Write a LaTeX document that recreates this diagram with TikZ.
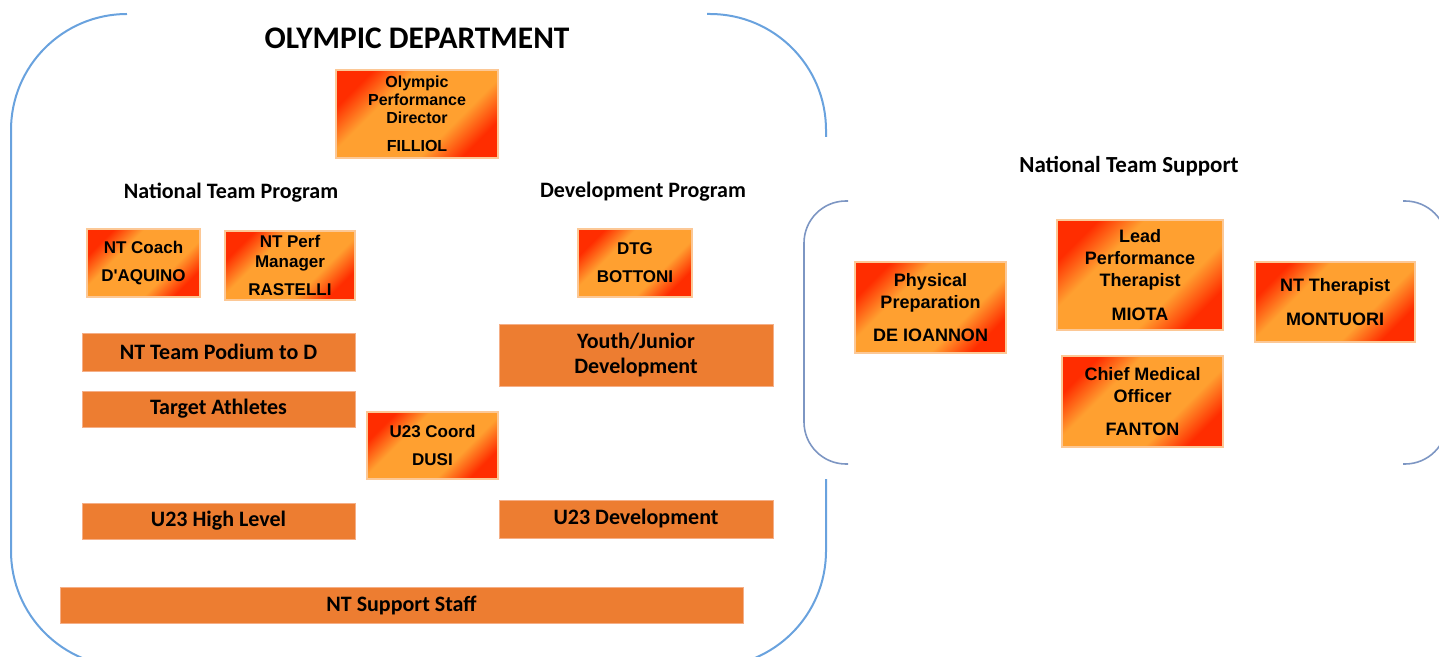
\documentclass[tikz,border=0pt]{standalone}
\usepackage{fontspec}
\setmainfont{Carlito}
\newfontfamily\arialfont{Liberation Sans}
\usepackage{tikz}
\usetikzlibrary{shadings}

\definecolor{glowred}{RGB}{255,45,0}
\definecolor{glowamber}{RGB}{255,160,48}
\definecolor{glowedge}{RGB}{252,200,150}
\definecolor{flatorange}{RGB}{237,125,49}
\definecolor{flatedge}{RGB}{245,175,135}
\definecolor{deptline}{RGB}{105,162,222}
\definecolor{supportline}{RGB}{125,150,195}

\pgfdeclareverticalshading{boxglow}{100bp}{color(0bp)=(glowred); color(25bp)=(glowred);
  color(37bp)=(glowamber); color(63bp)=(glowamber); color(75bp)=(glowred); color(100bp)=(glowred)}

\begin{document}
\begin{tikzpicture}[x=0.5pt,y=-0.5pt,every text node part/.style={align=center},
  heading/.style={font=\bfseries\fontsize{11}{13}\selectfont},
  glowbox/.style={shading=boxglow,shading angle=45,draw=glowedge,line width=0.7pt,inner sep=0pt,
    font=\arialfont\bfseries\fontsize{9}{11}\selectfont},
  flatbox/.style={fill=flatorange,draw=flatedge,line width=0.4pt,inner sep=0pt,
    font=\bfseries\fontsize{11}{12.5}\selectfont}]
  \useasboundingbox (0,0) rectangle (1439,657);
  \clip (0,0) rectangle (1439,657);

  % Frames
  \draw[deptline,line width=1pt,rounded corners=58pt] (707,14) -- (826,14) -- (826,137);
  \draw[deptline,line width=1pt,rounded corners=58pt] (826,479) -- (826,667) -- (11,667) -- (11,14) -- (127,14);
  \draw[supportline,line width=0.8pt,rounded corners=21pt] (848,201) -- (804,201) -- (804,464) -- (848,464);
  \draw[supportline,line width=0.8pt,rounded corners=21pt] (1403,201) -- (1447,201) -- (1447,464) -- (1403,464);

  % Headings
  \node[heading,font=\bfseries\fontsize{15.7}{18}\selectfont] (dept) at (417,38) {OLYMPIC DEPARTMENT};
  \node[heading] (ntprog) at (231,193) {National Team Program};
  \node[heading] (devprog) at (643,192) {Development Program};
  \node[heading,font=\bfseries\fontsize{11.5}{13}\selectfont] (ntsupp) at (1129,166) {National Team Support};

  % Olympic Department
  \node[glowbox,minimum width=81pt,minimum height=44pt,font=\arialfont\bfseries\fontsize{8}{9}\selectfont] (director) at (417,114)
    {Olympic\\Performance\\Director\\[5pt]FILLIOL};
  \node[glowbox,minimum width=56.5pt,minimum height=34pt,font=\arialfont\bfseries\fontsize{8.5}{10}\selectfont] (coach) at (143.5,263)
    {NT Coach\\[4pt]D'AQUINO};
  \node[glowbox,minimum width=65pt,minimum height=34.5pt,font=\arialfont\bfseries\fontsize{8.5}{10}\selectfont] (perfmgr) at (290,265.5)
    {NT Perf\\Manager\\[4pt]RASTELLI};
  \node[glowbox,minimum width=57pt,minimum height=34pt,font=\arialfont\bfseries\fontsize{8.5}{10}\selectfont] (dtg) at (635,263)
    {DTG\\[4pt]BOTTONI};
  \node[glowbox,minimum width=65.5pt,minimum height=33.5pt,font=\arialfont\bfseries\fontsize{8.5}{10}\selectfont] (u23coord) at (432.5,445.5)
    {U23 Coord\\[4pt]DUSI};

  \node[flatbox,minimum width=136.5pt,minimum height=19pt] (podium) at (218.5,352) {NT Team Podium to D};
  \node[flatbox,minimum width=136.5pt,minimum height=18pt] (target) at (218.5,409) {Target Athletes};
  \node[flatbox,minimum width=136.5pt,minimum height=18pt] (u23high) at (218.5,521) {U23 High Level};
  \node[flatbox,minimum width=137pt,minimum height=31pt] (youth) at (636,355) {Youth/Junior\\Development};
  \node[flatbox,minimum width=137pt,minimum height=19pt] (u23dev) at (636,519) {U23 Development};
  \node[flatbox,minimum width=341.5pt,minimum height=18pt] (support) at (401.5,605) {NT Support Staff};

  % National Team Support
  \node[glowbox,minimum width=75.5pt,minimum height=45.5pt] (physprep) at (930.5,307.5)
    {Physical\\Preparation\\[5.5pt]DE IOANNON};
  \node[glowbox,minimum width=83pt,minimum height=55pt] (leadther) at (1140,275)
    {Lead\\Performance\\Therapist\\[6pt]MIOTA};
  \node[glowbox,minimum width=80pt,minimum height=40pt] (ntther) at (1335,302)
    {NT Therapist\\[6pt]MONTUORI};
  \node[glowbox,minimum width=80.5pt,minimum height=45.5pt] (cmo) at (1142.5,401.5)
    {Chief Medical\\Officer\\[5.5pt]FANTON};
\end{tikzpicture}
\end{document}
